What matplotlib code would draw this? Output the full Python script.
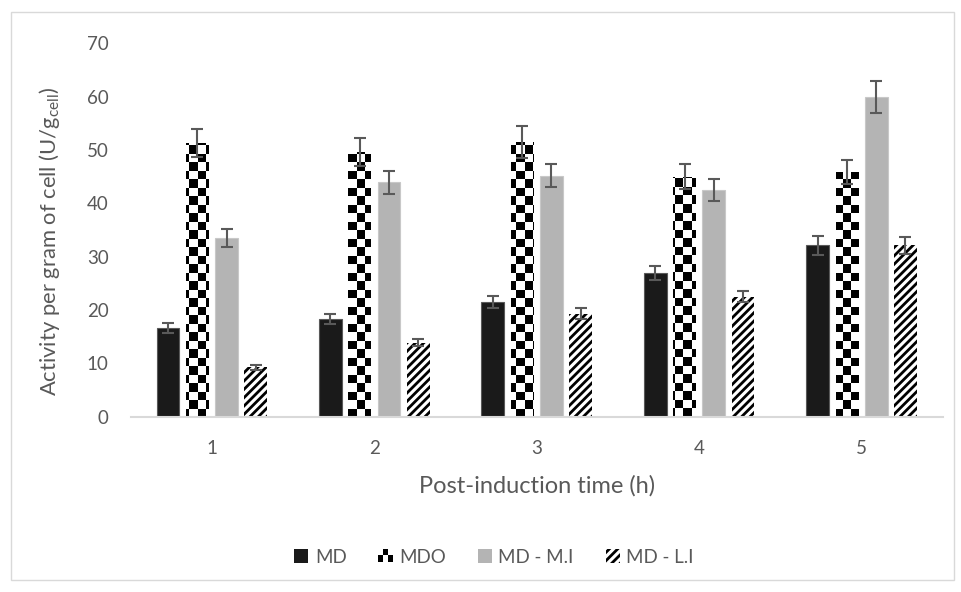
import numpy as np
import matplotlib.pyplot as plt
from matplotlib.patches import Rectangle
from matplotlib.legend_handler import HandlerBase

plt.rcParams['font.family'] = ['Lato', 'DejaVu Sans']
plt.rcParams['mathtext.fontset'] = 'custom'
plt.rcParams['mathtext.rm'] = 'Lato'
plt.rcParams['hatch.linewidth'] = 2.0

# Data
times = ['1', '2', '3', '4', '5']
series = ['MD', 'MDO', 'MD - M.I', 'MD - L.I']
md = [16.6, 18.3, 21.5, 26.9, 32.1]
mdo = [51.3, 49.6, 51.5, 45.0, 45.9]
md_mi = [33.5, 43.9, 45.2, 42.5, 60.0]
md_li = [9.3, 13.9, 19.3, 22.5, 32.1]
md_err = [0.9, 0.9, 1.1, 1.35, 1.7]
mdo_err = [2.6, 2.55, 3.0, 2.3, 2.3]
md_mi_err = [1.7, 2.2, 2.2, 2.1, 3.0]
md_li_err = [0.45, 0.7, 1.0, 1.05, 1.6]

text_col = '#595959'
fig = plt.figure(figsize=(9.61, 5.92), dpi=100)
ax = fig.add_axes([0.136, 0.296, 0.845, 0.631])

# outer chart border
fig.patches.append(Rectangle((0.011, 0.02), 0.982, 0.96, transform=fig.transFigure,
                             fill=False, edgecolor='#d9d9d9', linewidth=1.0))

x = np.arange(len(times))
w, pitch = 0.14, 0.18
errkw = dict(ecolor='#595959', elinewidth=1.5, capsize=4.5, capthick=1.5)

b_md = ax.bar(x - 1.5 * pitch, md, w, yerr=md_err, color='#1a1a1a',
              edgecolor='#595959', linewidth=0.8, error_kw=errkw, zorder=2)
b_mdo = ax.bar(x - 0.5 * pitch, mdo, w, yerr=mdo_err, color='white',
               edgecolor='none', linewidth=0, error_kw=errkw, zorder=2)
b_mi = ax.bar(x + 0.5 * pitch, md_mi, w, yerr=md_mi_err, color='#b4b4b4',
              edgecolor='#c8c8c8', linewidth=0.8, error_kw=errkw, zorder=2)
b_li = ax.bar(x + 1.5 * pitch, md_li, w, yerr=md_li_err, color='white',
              edgecolor='black', linewidth=0, hatch='////', error_kw=errkw, zorder=2)

ax.set_xlim(-0.5, 4.5)
ax.set_ylim(0, 70)

# checkerboard fill for MDO, clipped to each bar
nx, ny = 97, 44
board = np.add.outer(np.arange(ny), np.arange(nx)) % 2
for bar in b_mdo:
    im = ax.imshow(board, cmap='gray', extent=(-0.5, 4.5, 0, 70), aspect='auto',
                   interpolation='nearest', origin='lower', zorder=2.1)
    im.set_clip_path(bar)
for line in ax.lines + ax.collections:
    line.set_zorder(3)
ax.set_xlim(-0.5, 4.5)
ax.set_ylim(0, 70)

ax.set_yticks(range(0, 71, 10))
ax.set_xticks(x)
ax.set_xticklabels(times)
ax.tick_params(length=0, labelsize=13.5, colors=text_col)
ax.tick_params(axis='x', pad=17)
ax.tick_params(axis='y', pad=16)
for s in ['top', 'right', 'left']:
    ax.spines[s].set_visible(False)
ax.spines['bottom'].set_color('#d9d9d9')
ax.spines['bottom'].set_linewidth(1.5)

ax.set_xlabel('Post-induction time (h)', fontsize=17, color=text_col)
ax.xaxis.set_label_coords(0.5, -0.155)
ax.set_ylabel(r'Activity per gram of cell (U/g$_{\mathrm{cell}}$)', fontsize=15.8,
              color=text_col)
ax.yaxis.set_label_coords(-0.085, 0.47)


class CheckerHandler(HandlerBase):
    def create_artists(self, legend, orig, xd, yd, width, height, fontsize, trans):
        arts = [Rectangle((xd, yd), width, height, facecolor='white', edgecolor='none',
                          transform=trans)]
        cw, ch = width / 3, height / 2
        for i in range(3):
            for j in range(2):
                if (i + j) % 2 == 0:
                    arts.append(Rectangle((xd + i * cw, yd + j * ch), cw, ch,
                                          facecolor='black', edgecolor='none', transform=trans))
        return arts


handles = [Rectangle((0, 0), 1, 1, facecolor='#1a1a1a'),
           Rectangle((0, 0), 1, 1, facecolor='white'),
           Rectangle((0, 0), 1, 1, facecolor='#b4b4b4'),
           Rectangle((0, 0), 1, 1, facecolor='white', edgecolor='black', linewidth=0, hatch='////')]
leg = fig.legend(handles, series, loc='center', bbox_to_anchor=(0.514, 0.059), ncol=4,
                 frameon=False, fontsize=13.5, handlelength=0.75, handleheight=0.75,
                 handletextpad=0.35, columnspacing=1.7,
                 handler_map={handles[1]: CheckerHandler()})
for t in leg.get_texts():
    t.set_color(text_col)

fig.savefig('out.png', dpi=100)
